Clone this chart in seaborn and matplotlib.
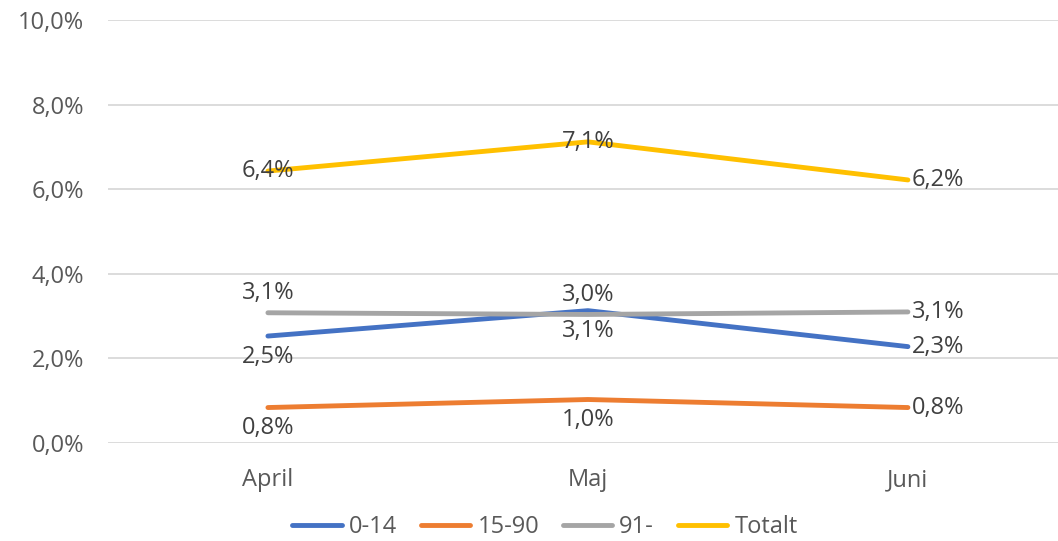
import pandas as pd
import seaborn as sns
import matplotlib.pyplot as plt
from matplotlib.ticker import FuncFormatter

months = ['April', 'Maj', 'Juni']
groups = ['0-14', '15-90', '91-', 'Totalt']
v_0_14 = [0.0253, 0.0313, 0.0228]
v_15_90 = [0.0084, 0.0103, 0.0084]
v_91 = [0.0308, 0.0304, 0.0310]
v_totalt = [0.0643, 0.0712, 0.0622]
colors = ['#4472C4', '#ED7D31', '#A5A5A5', '#FFC000']

# label placement per series and month
placement = {
    '0-14': ['below', 'below', 'right'],
    '15-90': ['below', 'below', 'right'],
    '91-': ['above', 'above', 'right'],
    'Totalt': ['center', 'center', 'right'],
}

df = pd.DataFrame({
    'month': months * 4,
    'group': [g for g in groups for _ in months],
    'value': v_0_14 + v_15_90 + v_91 + v_totalt,
})
df['x'] = df['month'].map({m: i for i, m in enumerate(months)})

sns.set_style('white')
plt.rcParams['font.family'] = ['Open Sans', 'DejaVu Sans']

fig = plt.figure(figsize=(10.58, 5.41), dpi=100)
ax = fig.add_axes([0.102, 0.181, 0.898, 0.782])

sns.lineplot(df, x='x', y='value', hue='group', palette=colors, linewidth=3.5,
             ax=ax, legend=False, solid_capstyle='round')

fs = 17
for g in groups:
    sub = df[df['group'] == g]
    for (_, r), pos in zip(sub.iterrows(), placement[g]):
        txt = f"{r['value'] * 100:.1f}%".replace('.', ',')
        if pos == 'below':
            off, ha, va = (0, -15), 'center', 'center'
        elif pos == 'above':
            off, ha, va = (0, 14), 'center', 'center'
        elif pos == 'right':
            off, ha, va = (3, 0), 'left', 'center'
        else:
            off, ha, va = (0, 0), 'center', 'center'
        ax.annotate(txt, (r['x'], r['value']), xytext=off, textcoords='offset points',
                    ha=ha, va=va, fontsize=fs, color='#404040')

ax.set_xlim(-0.5, 2.469)
ax.set_ylim(0, 0.10)
ax.set_yticks([0, 0.02, 0.04, 0.06, 0.08, 0.10])
ax.yaxis.set_major_formatter(FuncFormatter(lambda v, p: f"{v * 100:.1f}%".replace('.', ',')))
ax.set_xticks(range(len(months)))
ax.set_xticklabels(months)
ax.tick_params(axis='both', labelsize=fs, labelcolor='#595959', length=0)
ax.tick_params(axis='x', pad=18)
ax.tick_params(axis='y', pad=17)
ax.grid(axis='y', color='#D9D9D9', linewidth=1.3)
ax.set_xlabel(None)
ax.set_ylabel(None)
sns.despine(ax=ax, left=True, bottom=True, right=True, top=True)

handles = [plt.Line2D([], [], color=c, linewidth=3.5, solid_capstyle='round') for c in colors]
fig.legend(handles, groups, loc='center', bbox_to_anchor=(0.515, 0.026), ncol=4,
           frameon=False, fontsize=fs, handlelength=2.1, handletextpad=0.3,
           columnspacing=1.0, labelcolor='#595959')

fig.savefig('out.png', dpi=100)
